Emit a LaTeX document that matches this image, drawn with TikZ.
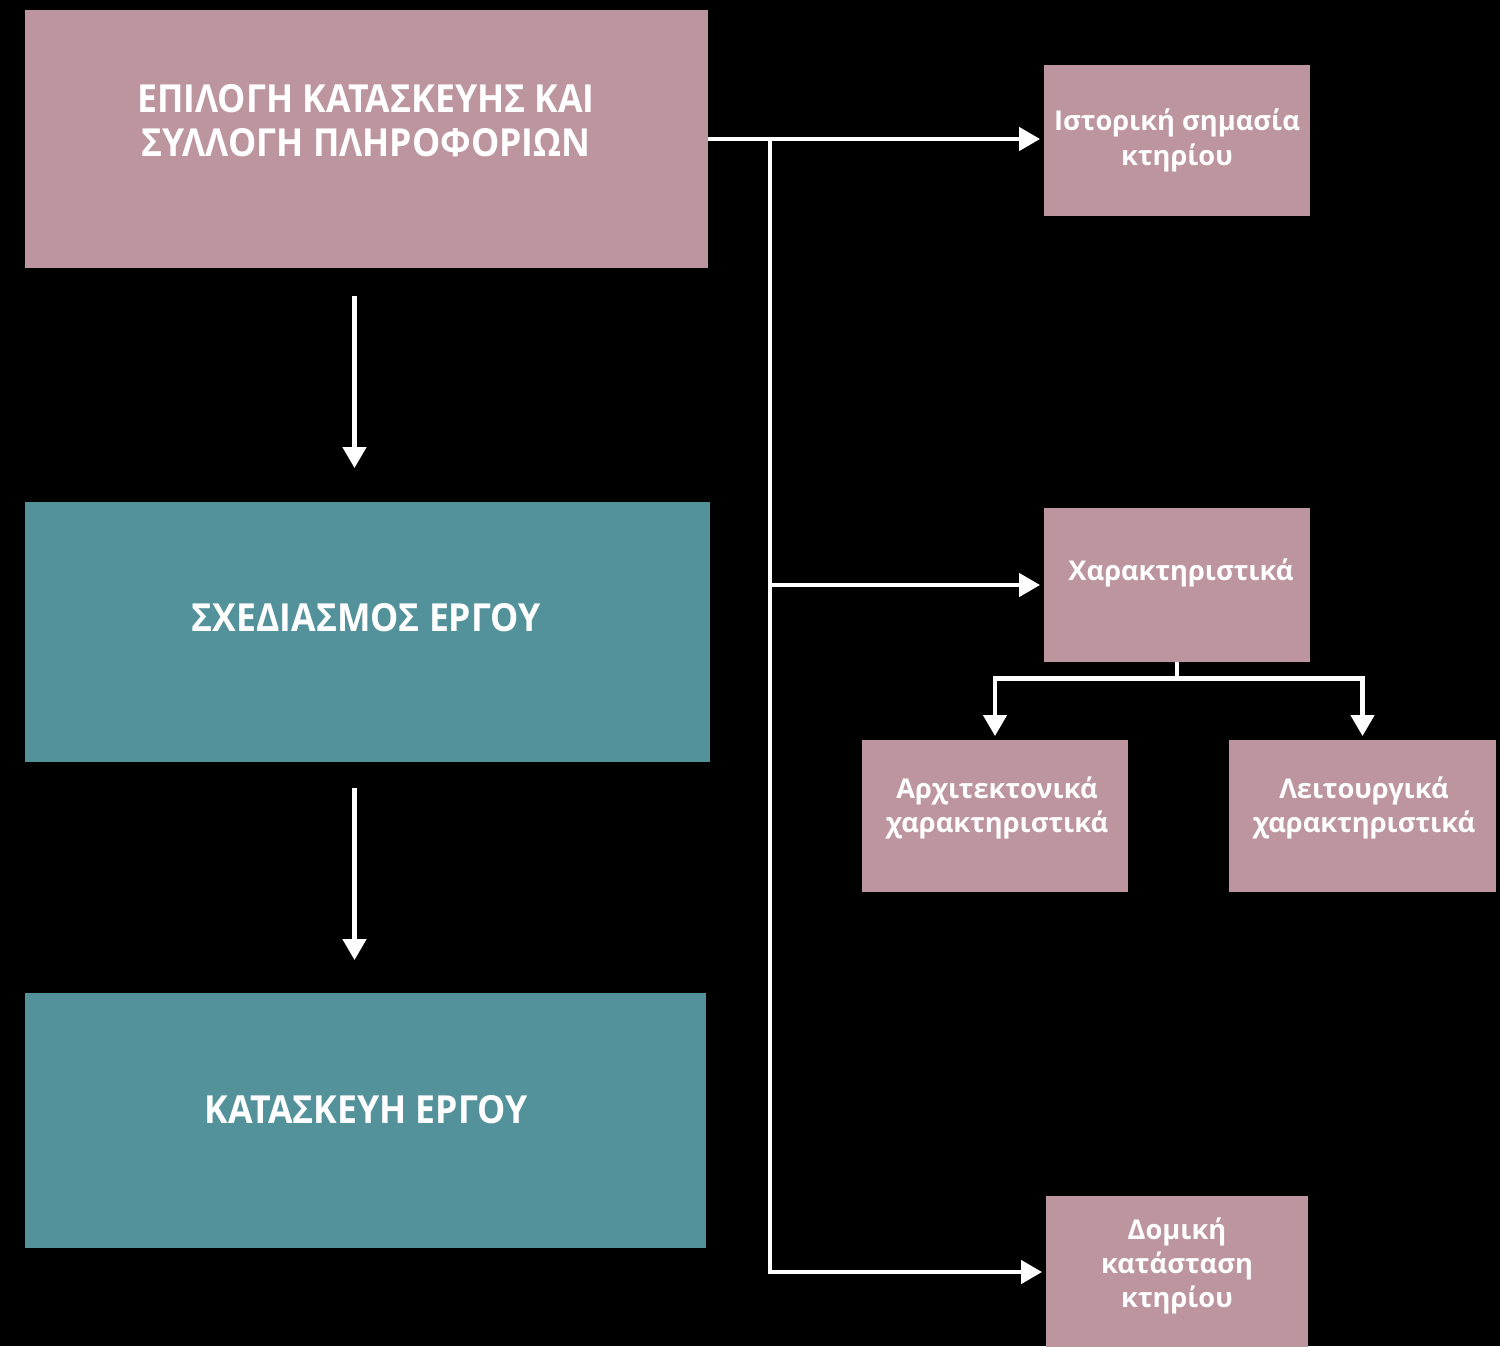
\documentclass[tikz,border=0pt]{standalone}
\usepackage{fontspec}
\setmainfont{Open Sans}
\usetikzlibrary{arrows.meta,calc}
\definecolor{boxpink}{HTML}{BD959E}
\definecolor{boxteal}{HTML}{54929B}
\tikzset{
  pinkbox/.style={fill=boxpink, draw=none, inner sep=0pt},
  tealbox/.style={fill=boxteal, draw=none, inner sep=0pt},
  bigtxt/.style={text=white, font=\bfseries\fontsize{22}{25}\selectfont, align=center, inner sep=0pt},
  smalltxt/.style={text=white, font=\bfseries\fontsize{15.5}{19.5}\selectfont, align=center},
  conn/.style={draw=white, line width=2.8pt},
  arr/.style={conn, -{Triangle[length=12pt,width=13pt]}, shorten >=2pt},
}
\begin{document}
\begin{tikzpicture}[x=0.02cm, y=-0.02cm]
\useasboundingbox (0,0) rectangle (1500,1346);
\fill[black] (0,0) rectangle (1500,1346);
% left column boxes
\node[pinkbox, minimum width=683*0.02cm, minimum height=258*0.02cm] (A) at (366.5,139) {};
\node[bigtxt] (At) at (366,121) {\scalebox{0.92}[1]{ΕΠΙΛΟΓΗ ΚΑΤΑΣΚΕΥΗΣ ΚΑΙ}\\\scalebox{0.92}[1]{ΣΥΛΛΟΓΗ ΠΛΗΡΟΦΟΡΙΩΝ}};
\node[tealbox, minimum width=685*0.02cm, minimum height=260*0.02cm] (B) at (367.5,632) {};
\node[bigtxt] (Bt) at (366,618) {\scalebox{0.92}[1]{ΣΧΕΔΙΑΣΜΟΣ ΕΡΓΟΥ}};
\node[tealbox, minimum width=681*0.02cm, minimum height=255*0.02cm] (C) at (365.5,1120.5) {};
\node[bigtxt] (Ct) at (366,1110) {\scalebox{0.92}[1]{ΚΑΤΑΣΚΕΥΗ ΕΡΓΟΥ}};
% right column boxes
\node[pinkbox, smalltxt, minimum width=266*0.02cm, minimum height=151*0.02cm] (H1) at (1177,140.5) {Ιστορική σημασία\\κτηρίου};
\node[pinkbox, minimum width=266*0.02cm, minimum height=154*0.02cm] (H2) at (1177,585) {};
\node[smalltxt] (H2t) at (1181,573) {Χαρακτηριστικά};
\node[pinkbox, minimum width=266*0.02cm, minimum height=152*0.02cm] (H3) at (995,816) {};
\node[smalltxt] (H3t) at (997,808) {Αρχιτεκτονικά\\χαρακτηριστικά};
\node[pinkbox, minimum width=267*0.02cm, minimum height=152*0.02cm] (H4) at (1362.5,816) {};
\node[smalltxt] (H4t) at (1364,808) {Λειτουργικά\\χαρακτηριστικά};
\node[pinkbox, minimum width=262*0.02cm, minimum height=152*0.02cm] (H5) at (1177,1272) {};
\node[smalltxt] (H5t) at (1177,1266) {Δομική\\κατάσταση\\κτηρίου};
% vertical arrows left column
\draw[arr] ($(A.south)+(-12,28)$) -- ($(B.north)+(-13,-30)$);
\draw[arr] ($(B.south)+(-13,26)$) -- ($(C.north)+(-11,-29)$);
% right branches
\coordinate (J) at (770,139);
\draw[arr] (A.east |- J) -- (H1.west |- J);
\draw[arr] (J) |- (H5.west);
\draw[arr] (J |- H2.west) -- (H2.west);
\coordinate (K) at ($(H2.south)+(0,16)$);
\draw[conn] (H2.south) -- (K);
\draw[arr] (K) -| (H3.north);
\draw[arr] (K) -| (H4.north);
\end{tikzpicture}
\end{document}
